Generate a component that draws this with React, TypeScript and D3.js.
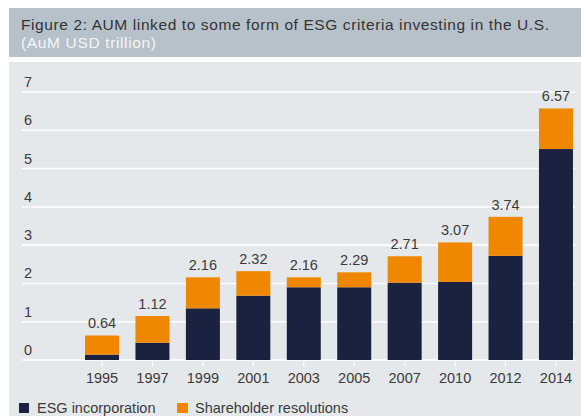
import React from 'react';
import * as d3 from 'd3';

const years = ['1995', '1997', '1999', '2001', '2003', '2005', '2007', '2010', '2012', '2014'];
const esgIncorporation = [0.14, 0.45, 1.35, 1.68, 1.9, 1.9, 2.02, 2.04, 2.72, 5.51];
const shareholderResolutions = [0.5, 0.7, 0.81, 0.64, 0.26, 0.39, 0.69, 1.03, 1.02, 1.06];
const totalLabels = ['0.64', '1.12', '2.16', '2.32', '2.16', '2.29', '2.71', '3.07', '3.74', '6.57'];
const yTicks = [0, 1, 2, 3, 4, 5, 6, 7];

const W = 581;
const H = 416;
const NAVY = '#1a2240';
const ORANGE = '#ef8800';
const FONT = '"Liberation Sans", Arial, sans-serif';

export default function App() {
  const x = d3.scaleBand<string>()
    .domain(years)
    .range([76.8, 581.2])
    .paddingInner(0.326)
    .paddingOuter(0.163);
  const y = d3.scaleLinear().domain([0, 7]).range([360, 92]);

  const rows = years.map((yr, i) => ({
    year: yr,
    esg: esgIncorporation[i],
    sh: shareholderResolutions[i],
    label: totalLabels[i],
  }));

  return (
    <div style={{ position: 'fixed', left: 0, top: 0, width: W, height: H, background: '#fff' }}>
      <svg width={W} height={H} style={{ display: 'block', fontFamily: FONT }}>
        {/* title band */}
        <rect x={9} y={8} width={W - 9} height={49} fill="#b7c1c9" />
        <text x={21} y={30} fontSize={15.5} fill="#333" textLength={528} lengthAdjust="spacing">
          Figure 2: AUM linked to some form of ESG criteria investing in the U.S.
        </text>
        <text x={21} y={48} fontSize={15.5} fill="#f4f6f8" textLength={135} lengthAdjust="spacing">
          (AuM USD trillion)
        </text>

        {/* chart panel */}
        <rect x={9} y={62} width={W - 9} height={H - 62} fill="#e5e8eb" />

        {yTicks.map(t => (
          <g key={t}>
            <line x1={22} x2={575} y1={y(t)} y2={y(t)} stroke="#fff" strokeWidth={1.6} />
            <text x={24} y={y(t) - 5} fontSize={14.5} fill="#3a3a3a">{t}</text>
          </g>
        ))}

        {rows.map(d => {
          const bx = x(d.year)!;
          const bw = x.bandwidth();
          const cx = bx + bw / 2;
          const total = d.esg + d.sh;
          return (
            <g key={d.year}>
              <rect x={bx} y={y(d.esg)} width={bw} height={y(0) - y(d.esg)} fill={NAVY} />
              <rect x={bx} y={y(total)} width={bw} height={y(d.esg) - y(total)} fill={ORANGE} />
              <text x={cx} y={y(total) - 7} fontSize={14.5} fill="#3a3a3a" textAnchor="middle">{d.label}</text>
              <line x1={cx} x2={cx} y1={361} y2={366} stroke="#fff" strokeWidth={1.2} />
              <text x={cx} y={383} fontSize={14.5} fill="#3a3a3a" textAnchor="middle">{d.year}</text>
            </g>
          );
        })}

        {/* legend */}
        <rect x={19} y={403} width={10} height={10} fill={NAVY} />
        <text x={37} y={413} fontSize={14.5} fill="#3a3a3a">ESG incorporation</text>
        <rect x={177} y={403} width={11} height={10} fill={ORANGE} />
        <text x={195} y={413} fontSize={14.5} fill="#3a3a3a">Shareholder resolutions</text>
      </svg>
    </div>
  );
}
